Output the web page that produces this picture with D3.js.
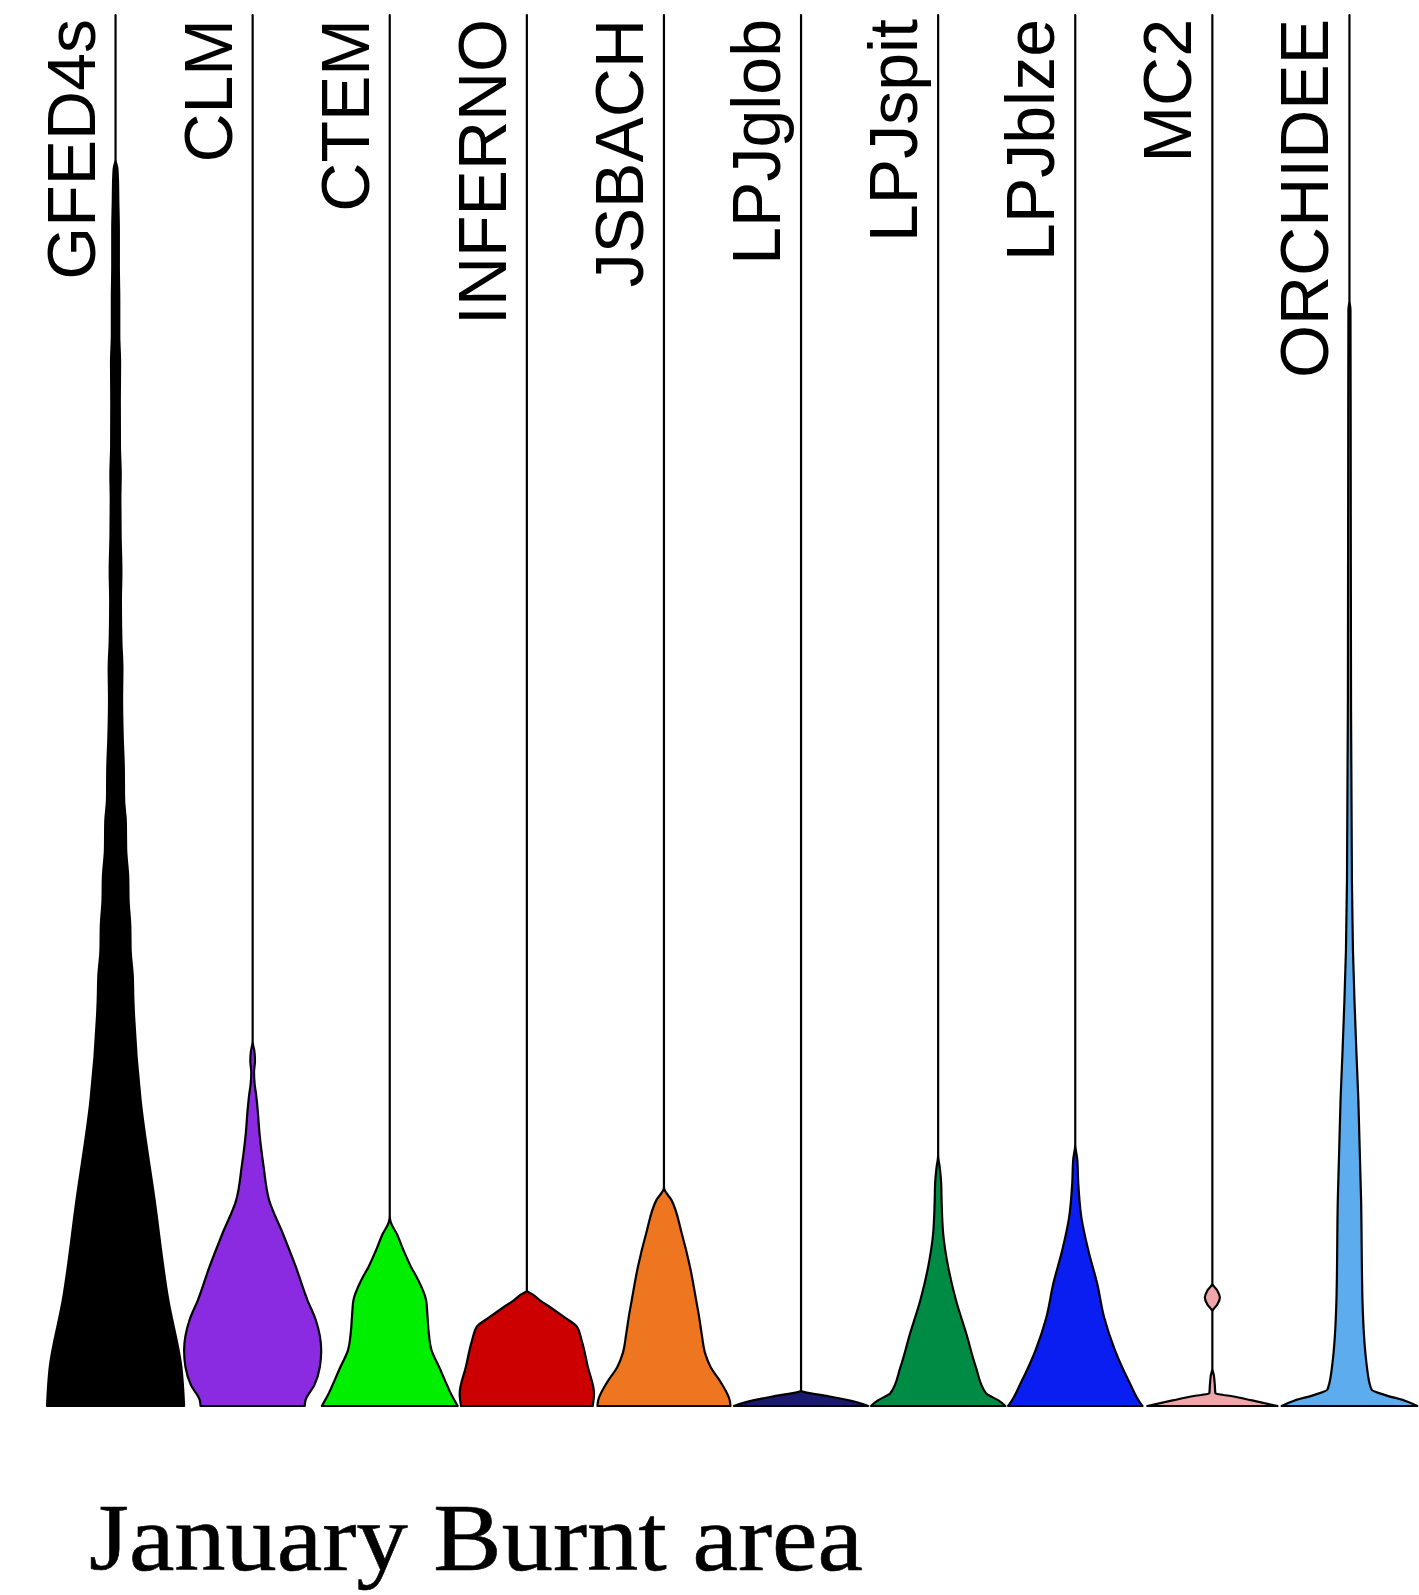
<!DOCTYPE html>
<html>
<head>
<meta charset="utf-8">
<script src="https://cdn.jsdelivr.net/npm/d3@7"></script>
<style>
  html, body { margin: 0; padding: 0; background: #ffffff; }
  svg { display: block; }
</style>
</head>
<body>
<svg id="chart" width="1419" height="1595"></svg>
<script>
// Models shown, left to right, and their fill colours
const models = ["GFED4s", "CLM", "CTEM", "INFERNO", "JSBACH", "LPJglob", "LPJspit", "LPJblze", "MC2", "ORCHIDEE"];
const fills  = ["#000000", "#8a2be2", "#00ee00", "#cd0000", "#ee7621", "#191970", "#008b45", "#0a1ef2", "#f0a5a8", "#5cacee"];

// Violin profiles: [burnt fraction, relative density width] (width 1 = full band)
const gfed4s = [[0,1.0],[0.028,0.96],[0.076,0.77],[0.148,0.57],[0.22,0.365],[0.292,0.26],[0.31,0.25],[0.328,0.22],
  [0.345,0.215],[0.364,0.19],[0.38,0.185],[0.40,0.155],[0.42,0.15],[0.436,0.125],[0.46,0.12],[0.48,0.105],[0.508,0.095],
  [0.53,0.1],[0.55,0.085],[0.579,0.078],[0.60,0.085],[0.625,0.074],[0.651,0.07],[0.67,0.075],[0.69,0.064],[0.723,0.062],
  [0.75,0.066],[0.77,0.054],[0.795,0.054],[0.82,0.048],[0.845,0.048],[0.867,0.04],[0.88,0.036],[0.89,0.026],[0.896,0],[1,0]];
const clm = [[0,0.76],[0.004,0.77],[0.015,0.90],[0.028,0.98],[0.04,1.0],[0.062,0.92],[0.076,0.80],[0.10,0.63],[0.124,0.44],
  [0.148,0.24],[0.172,0.16],[0.196,0.10],[0.213,0.073],[0.224,0.05],[0.231,0.03],[0.24,0.02],[0.248,0.034],[0.255,0.026],
  [0.262,0],[1,0]];
const ctem = [[0,0.99],[0.008,0.90],[0.019,0.80],[0.028,0.72],[0.04,0.61],[0.052,0.57],[0.065,0.55],[0.076,0.53],[0.091,0.41],
  [0.10,0.31],[0.112,0.20],[0.124,0.10],[0.132,0.015],[0.137,0],[1,0]];
const inferno = [[0,0.96],[0.009,0.98],[0.028,0.89],[0.047,0.80],[0.057,0.73],[0.064,0.54],[0.071,0.34],[0.076,0.19],
  [0.080,0.09],[0.083,0],[1,0]];
const jsbach = [[0,0.97],[0.004,0.96],[0.017,0.83],[0.028,0.68],[0.038,0.60],[0.052,0.55],[0.065,0.51],[0.076,0.47],
  [0.10,0.38],[0.124,0.26],[0.148,0.11],[0.157,0],[1,0]];
const lpjglob = [[0,0.98],[0.004,0.70],[0.007,0.40],[0.010,0.05],[0.011,0],[1,0]];
const lpjspit = [[0,0.98],[0.004,0.88],[0.008,0.73],[0.009,0.70],[0.028,0.55],[0.052,0.41],[0.076,0.26],[0.10,0.146],
  [0.124,0.073],[0.148,0.05],[0.16,0.044],[0.172,0.022],[0.18,0],[1,0]];
const lpjblze = [[0,0.98],[0.002,0.95],[0.017,0.79],[0.04,0.58],[0.064,0.42],[0.088,0.32],[0.112,0.19],[0.136,0.088],
  [0.16,0.044],[0.177,0.03],[0.188,0],[1,0]];
const mc2 = [[0,0.95],[0.004,0.58],[0.007,0.29],[0.009,0.044],[0.015,0.036],[0.022,0.022],[0.027,0],[0.068,0],
  [0.073,0.073],[0.078,0.11],[0.083,0.073],[0.088,0],[1,0]];
const orchidee = [[0,0.99],[0.004,0.80],[0.008,0.51],[0.012,0.32],[0.028,0.255],[0.076,0.19],[0.148,0.17],[0.22,0.13],
  [0.256,0.10],[0.292,0.073],[0.328,0.051],[0.378,0.036],[0.507,0.023],[0.651,0.019],[0.788,0.015],[0.795,0],[1,0]];

const profiles = [gfed4s, clm, ctem, inferno, jsbach, lpjglob, lpjspit, lpjblze, mc2, orchidee];

const title = "January Burnt area";

const svg = d3.select("#chart");

const x = d3.scaleBand().domain(models).range([47, 1418]).padding(0);
const y = d3.scaleLinear().domain([0, 1]).range([1406, 15]);
const w = d3.scaleLinear().domain([0, 1]).range([0, x.bandwidth() / 2]);

const violins = svg.append("g").attr("class", "violins");

models.forEach((m, i) => {
  const cx = x(m) + x.bandwidth() / 2;
  const pts = profiles[i].slice().sort((a, b) => b[0] - a[0]);
  const area = d3.area()
    .curve(d3.curveMonotoneY)
    .y(d => y(d[0]))
    .x0(d => cx - w(d[1]))
    .x1(d => cx + w(d[1]));
  violins.append("path")
    .attr("d", area(pts))
    .attr("fill", fills[i])
    .attr("stroke", "#000")
    .attr("stroke-width", 2.2)
    .attr("stroke-linejoin", "round");
});

// Rotated model names along the top
const labels = svg.append("g").attr("class", "labels");
models.forEach(m => {
  const cx = x(m) + x.bandwidth() / 2;
  labels.append("text")
    .attr("transform", `translate(${cx - 21},19) rotate(-90)`)
    .attr("text-anchor", "end")
    .attr("font-family", "'Liberation Sans', Arial, Helvetica, sans-serif")
    .attr("font-size", 68)
    .attr("fill", "#000")
    .text(m);
});

// Caption under the plot
svg.append("text")
  .attr("x", 89)
  .attr("y", 1570)
  .attr("font-family", "'Liberation Serif', 'Times New Roman', serif")
  .attr("font-size", 96)
  .attr("textLength", 774)
  .attr("lengthAdjust", "spacingAndGlyphs")
  .attr("fill", "#000")
  .attr("stroke", "#000")
  .attr("stroke-width", 0.6)
  .text(title);
</script>
</body>
</html>
